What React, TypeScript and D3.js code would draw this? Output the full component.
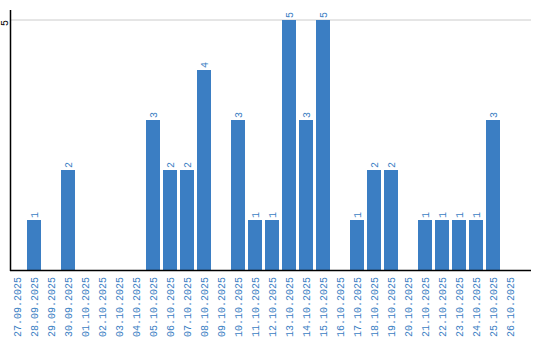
import React from "react";
import * as d3 from "d3";

const dates = [
  "27.09.2025", "28.09.2025", "29.09.2025", "30.09.2025", "01.10.2025",
  "02.10.2025", "03.10.2025", "04.10.2025", "05.10.2025", "06.10.2025",
  "07.10.2025", "08.10.2025", "09.10.2025", "10.10.2025", "11.10.2025",
  "12.10.2025", "13.10.2025", "14.10.2025", "15.10.2025", "16.10.2025",
  "17.10.2025", "18.10.2025", "19.10.2025", "20.10.2025", "21.10.2025",
  "22.10.2025", "23.10.2025", "24.10.2025", "25.10.2025", "26.10.2025",
];
const counts = [0, 1, 0, 2, 0, 0, 0, 0, 3, 2, 2, 4, 0, 3, 1, 1, 5, 3, 5, 0, 1, 2, 2, 0, 1, 1, 1, 1, 3, 0];
const yTicks = [5];

const W = 540;
const H = 340;
const BLUE = "#3b7ec3";
const FONT = "'Liberation Mono', monospace";

export default function App() {
  const x = d3.scaleBand<string>().domain(dates).range([8.5, 518.5]).paddingInner(3 / 17).paddingOuter(1.5 / 17);
  const y = d3.scaleLinear().domain([0, 5]).range([270, 20]);
  const bw = x.bandwidth();
  return (
    <svg width={W} height={H} style={{ position: "absolute", left: 0, top: 0, background: "#fff" }}>
      {yTicks.map((t) => (
        <g key={t}>
          <line x1={11} x2={531} y1={y(t)} y2={y(t)} stroke="#cccccc" strokeWidth={1} />
          <text
            transform={`translate(7.5,${y(t) + 3}) rotate(-90)`}
            textAnchor="middle"
            fontFamily={FONT}
            fontSize={10}
            fill="#000"
          >
            {t}
          </text>
        </g>
      ))}
      {dates.map((d, i) =>
        counts[i] > 0 ? (
          <rect key={d} x={x(d)} y={y(counts[i])} width={bw} height={y(0) - y(counts[i])} fill={BLUE} />
        ) : null
      )}
      {dates.map((d, i) =>
        counts[i] > 0 ? (
          <text
            key={"v" + d}
            transform={`translate(${(x(d) as number) + bw / 2 + 4},${y(counts[i]) - 2}) rotate(-90)`}
            textAnchor="start"
            fontFamily={FONT}
            fontSize={10}
            fill={BLUE}
          >
            {counts[i]}
          </text>
        ) : null
      )}
      <line x1={10.5} x2={10.5} y1={10} y2={271} stroke="#000" strokeWidth={1.5} />
      <line x1={10} x2={531} y1={270.5} y2={270.5} stroke="#000" strokeWidth={1.5} />
      {dates.map((d) => (
        <text
          key={"t" + d}
          transform={`translate(${(x(d) as number) + bw / 2 + 4},277) rotate(-90)`}
          textAnchor="end"
          fontFamily={FONT}
          fontSize={10}
          fill={BLUE}
        >
          {d}
        </text>
      ))}
    </svg>
  );
}
